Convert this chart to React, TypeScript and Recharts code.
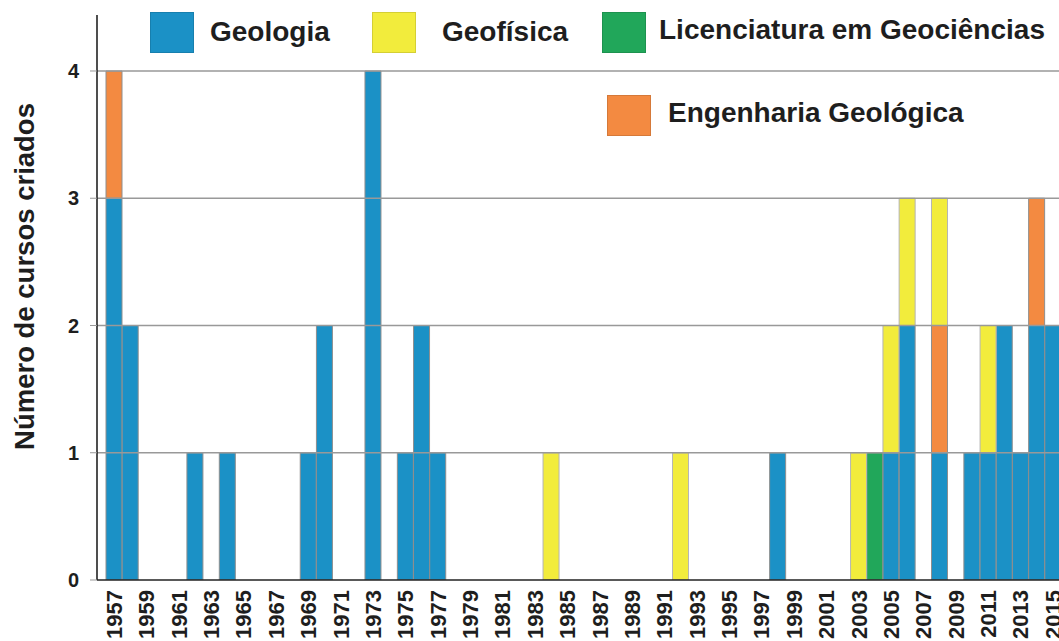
import React from "react";
import {
  BarChart,
  Bar,
  XAxis,
  YAxis,
  ReferenceLine,
  Label,
} from "recharts";

// one category per year, 1957..2015
const years = [
  "1957", "1958", "1959", "1960", "1961", "1962", "1963", "1964", "1965", "1966",
  "1967", "1968", "1969", "1970", "1971", "1972", "1973", "1974", "1975", "1976",
  "1977", "1978", "1979", "1980", "1981", "1982", "1983", "1984", "1985", "1986",
  "1987", "1988", "1989", "1990", "1991", "1992", "1993", "1994", "1995", "1996",
  "1997", "1998", "1999", "2000", "2001", "2002", "2003", "2004", "2005", "2006",
  "2007", "2008", "2009", "2010", "2011", "2012", "2013", "2014", "2015",
];

const geologia = [
  3, 2, 0, 0, 0, 1, 0, 1, 0, 0,
  0, 0, 1, 2, 0, 0, 4, 0, 1, 2,
  1, 0, 0, 0, 0, 0, 0, 0, 0, 0,
  0, 0, 0, 0, 0, 0, 0, 0, 0, 0,
  0, 1, 0, 0, 0, 0, 0, 0, 1, 2,
  0, 1, 0, 1, 1, 2, 1, 2, 2,
];

const licenciatura = [
  0, 0, 0, 0, 0, 0, 0, 0, 0, 0,
  0, 0, 0, 0, 0, 0, 0, 0, 0, 0,
  0, 0, 0, 0, 0, 0, 0, 0, 0, 0,
  0, 0, 0, 0, 0, 0, 0, 0, 0, 0,
  0, 0, 0, 0, 0, 0, 0, 1, 0, 0,
  0, 0, 0, 0, 0, 0, 0, 0, 0,
];

const engenharia = [
  1, 0, 0, 0, 0, 0, 0, 0, 0, 0,
  0, 0, 0, 0, 0, 0, 0, 0, 0, 0,
  0, 0, 0, 0, 0, 0, 0, 0, 0, 0,
  0, 0, 0, 0, 0, 0, 0, 0, 0, 0,
  0, 0, 0, 0, 0, 0, 0, 0, 0, 0,
  0, 1, 0, 0, 0, 0, 0, 1, 0,
];

const geofisica = [
  0, 0, 0, 0, 0, 0, 0, 0, 0, 0,
  0, 0, 0, 0, 0, 0, 0, 0, 0, 0,
  0, 0, 0, 0, 0, 0, 0, 1, 0, 0,
  0, 0, 0, 0, 0, 1, 0, 0, 0, 0,
  0, 0, 0, 0, 0, 0, 1, 0, 1, 1,
  0, 1, 0, 0, 1, 0, 0, 0, 0,
];

const yTicks = [0, 1, 2, 3, 4];

const FONT = "'Liberation Sans', Arial, Helvetica, sans-serif";
const BLUE = "#1b91c6";
const YELLOW = "#f2ec3c";
const GREEN = "#21a75a";
const ORANGE = "#f38a41";

const legendItems = [
  { name: "Geologia", color: BLUE, box: [150, 12], text: [210, 32] },
  { name: "Geofísica", color: YELLOW, box: [372, 12], text: [442, 32] },
  { name: "Licenciatura em Geociências", color: GREEN, box: [602, 12], text: [659, 30] },
  { name: "Engenharia Geológica", color: ORANGE, box: [607, 95], text: [668, 113] },
];

const data = years.map((year, i) => ({
  year,
  geologia: geologia[i],
  licenciatura: licenciatura[i],
  engenharia: engenharia[i],
  geofisica: geofisica[i],
}));

const XTick = (props: any) => {
  const { x, y, payload } = props;
  return (
    <text
      x={x}
      y={y}
      transform={`rotate(-90, ${x}, ${y})`}
      textAnchor="end"
      dy="0.36em"
      fontFamily={FONT}
      fontWeight="bold"
      fontSize={22}
      fill="#1e1e1e"
    >
      {payload.value}
    </text>
  );
};

const YLabel = (props: any) => {
  const { viewBox } = props;
  const cy = viewBox.y + viewBox.height / 2 - 21;
  return (
    <text
      x={34}
      y={cy}
      transform={`rotate(-90, 34, ${cy})`}
      textAnchor="middle"
      fontFamily={FONT}
      fontWeight="bold"
      fontSize={27.5}
      fill="#1e1e1e"
    >
      Número de cursos criados
    </text>
  );
};

const App = () => {
  return (
    <div
      style={{
        position: "absolute",
        left: 0,
        top: 0,
        width: 1059,
        height: 641,
        overflow: "hidden",
        background: "#fff",
      }}
    >
      <BarChart
        width={1066}
        height={641}
        data={data}
        margin={{ top: 15, right: 5, bottom: 6, left: 0 }}
        barCategoryGap={0}
        barGap={0}
      >
        <XAxis
          dataKey="year"
          interval={1}
          tickLine={false}
          tickSize={0}
          tickMargin={10}
          height={55}
          padding={{ left: 9, right: 0 }}
          axisLine={{ stroke: "#222", strokeWidth: 1.6 }}
          tick={<XTick />}
        />
        <YAxis
          width={97}
          domain={[0, 4.44]}
          allowDataOverflow
          ticks={yTicks}
          tickSize={7}
          tickMargin={11}
          tickLine={{ stroke: "#999" }}
          axisLine={{ stroke: "#222", strokeWidth: 1.6 }}
          tick={{ fontFamily: FONT, fontWeight: "bold", fontSize: 20, fill: "#1e1e1e" }}
        >
          <Label content={<YLabel />} />
        </YAxis>
        <Bar dataKey="geologia" stackId="a" fill={BLUE} stroke="#8e8e8e" strokeWidth={1} isAnimationActive={false} />
        <Bar dataKey="licenciatura" stackId="a" fill={GREEN} stroke="#8e8e8e" strokeWidth={1} isAnimationActive={false} />
        <Bar dataKey="engenharia" stackId="a" fill={ORANGE} stroke="#8e8e8e" strokeWidth={1} isAnimationActive={false} />
        <Bar dataKey="geofisica" stackId="a" fill={YELLOW} stroke="#b5b5b5" strokeWidth={1} isAnimationActive={false} />
        {yTicks.slice(1).map((t) => (
          <ReferenceLine key={t} y={t} stroke="#999" strokeWidth={1.3} />
        ))}
      </BarChart>
      {legendItems.map((it) => (
        <React.Fragment key={it.name}>
          <div
            style={{
              position: "absolute",
              left: it.box[0],
              top: it.box[1],
              width: 44,
              height: 41,
              background: it.color,
              boxSizing: "border-box",
              border: "1px solid rgba(0,0,0,0.12)",
            }}
          />
          <div
            style={{
              position: "absolute",
              left: it.text[0],
              top: it.text[1] - 16,
              lineHeight: "32px",
              fontFamily: FONT,
              fontWeight: "bold",
              fontSize: 28,
              color: "#1e1e1e",
              whiteSpace: "nowrap",
            }}
          >
            {it.name}
          </div>
        </React.Fragment>
      ))}
    </div>
  );
};

export default App;
